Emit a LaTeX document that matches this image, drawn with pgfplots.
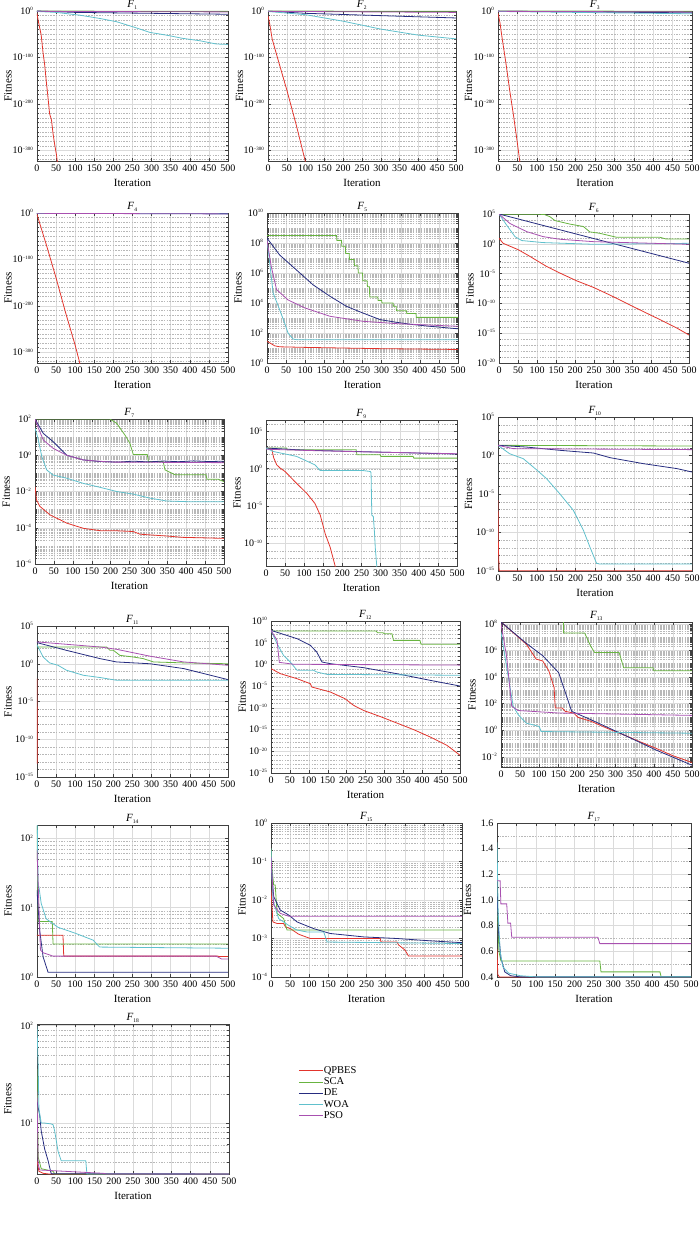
\documentclass[border=0pt]{standalone}
\usepackage{fontspec}
\setmainfont{Liberation Serif}
\usepackage{pgfplots}
\pgfplotsset{compat=1.18}
\definecolor{cQ}{RGB}{226,52,44}
\definecolor{cS}{RGB}{104,180,64}
\definecolor{cD}{RGB}{38,44,128}
\definecolor{cW}{RGB}{96,192,204}
\definecolor{cP}{RGB}{168,80,176}
\newcommand\pe[1]{10\textsuperscript{\fontsize{5}{6}\selectfont #1}}
\newcommand\ttl[1]{\textit{F}\textsubscript{\fontsize{5.5}{6}\selectfont #1}}
\newcommand\mkdec[2]{\gdef#1{}\foreach \e in {#2}{\xdef#1{#1 1e\e,}}\xdef#1{#1 1e0}}
\newcommand\mkfull[2]{\gdef#1{}\foreach \e in {#2}{\foreach \m in {1,...,9}{\xdef#1{#1 \m e\e,}}}\xdef#1{#1 1e0}}
\mkdec\mA{-10,-20,...,-320}
\mkdec\mBsix{-20,...,5}
\mkdec\mBnine{-13,...,6}
\mkdec\mBten{-15,...,5}
\mkdec\mBtw{-25,...,10}
\mkfull\mCfive{0,...,10}
\mkfull\mCseven{-6,...,2}
\mkfull\mCthirteen{-3,...,8}
\mkfull\mCfourteen{0,...,2}
\mkfull\mCfifteen{-4,...,0}
\pgfplotsset{
  mA/.estyle={minor ytick={\mA}},
  mBsix/.estyle={minor ytick={\mBsix}},
  mBnine/.estyle={minor ytick={\mBnine}},
  mBten/.estyle={minor ytick={\mBten}},
  mBtw/.estyle={minor ytick={\mBtw}},
  mCfive/.estyle={minor ytick={\mCfive}},
  mCseven/.estyle={minor ytick={\mCseven}},
  mCthirteen/.estyle={minor ytick={\mCthirteen}},
  mCfourteen/.estyle={minor ytick={\mCfourteen}},
  mCfifteen/.estyle={minor ytick={\mCfifteen}},
}
\pgfplotsset{
  Q/.style={color=cQ, line width=0.8pt},
  S/.style={color=cS, line width=0.8pt},
  D/.style={color=cD, line width=0.8pt},
  W/.style={color=cW, line width=0.8pt},
  P/.style={color=cP, line width=0.8pt},
  base/.style={
    scale only axis, anchor=north west,
    xmin=0, xmax=500, xtick={0,50,...,500},
    tick align=inside,
    xmajorgrids, ymajorgrids, yminorgrids,
    major grid style={draw=black!14, line width=0.4pt},
    minor grid style={draw=black!28, line width=0.35pt, dash pattern=on 1.5pt off 1.2pt},
    axis line style={draw=black!75, line width=0.9pt},
    major tick length=2.8pt, minor tick length=1.6pt,
    every tick/.append style={draw=black!75, line width=0.4pt},
    tick label style={font=\fontsize{10}{10}\selectfont},
    label style={font=\fontsize{11}{11}\selectfont},
    xlabel={Iteration}, ylabel={Fitness},
    xlabel style={at={(axis description cs:0.5,0)}, anchor=center, yshift=-22pt},
    ylabel style={at={(axis description cs:-0.152,0.5)}, anchor=center},
    title style={at={(axis description cs:0.5,1)}, anchor=base, yshift=-2.8pt, font=\fontsize{11}{11}\selectfont},
  },
  topfour/.style={ymin=1e-323, ymax=1, ytick={1,1e-100,1e-200,1e-300},
    yticklabels={\pe{0},\pe{−100},\pe{−200},\pe{−300}}, mA},
}
\pgfkeys{/pgf/number format/assume math mode=true}
\begin{document}
\begin{tikzpicture}
\useasboundingbox (0,0) rectangle (700pt,-1241pt);
% F1
\begin{axis}[base, ymode=log, topfour, at={(37pt,-11pt)}, width=191pt, height=150pt, title={\ttl{1}}]
\addplot[Q] coordinates {(0,1e-5)(3,1e-20)(8,1e-40)(11,1e-52)(16,1e-91)(20,1e-115)(24,1e-149)(28,1e-180)(33,1e-221)(38,1e-235)(42,1e-264)(46,1e-286)(51,1e-310)(54,1e-330)};
\addplot[S] coordinates {(0,0.6)(250,0.4)(500,0.3)};
\addplot[D] coordinates {(0,1)(100,1e-3)(300,1e-5)(500,1e-7)};
\addplot[W] coordinates {(0,0.1)(50,1e-3)(112,1e-9)(164,1e-16)(208,1e-23)(251,1e-34)(295,1e-46)(339,1e-52)(382,1e-59)(426,1e-64)(469,1e-71)(500,1e-72)};
\addplot[P] coordinates {(0,0.2)(500,1e-2)};
\end{axis}
% F2
\begin{axis}[base, ymode=log, topfour, at={(268pt,-11pt)}, width=188pt, height=150pt, title={\ttl{2}}]
\addplot[Q] coordinates {(0,1e-10)(5,1e-30)(11,1e-60)(25,1e-100)(50,1e-170)(75,1e-245)(99,1e-323)(100,1e-330)};
\addplot[S] coordinates {(0,0.6)(500,0.3)};
\addplot[D] coordinates {(0,0.5)(100,1e-5)(500,1e-15)};
\addplot[W] coordinates {(0,0.1)(100,1e-8)(200,1e-22)(300,1e-39)(400,1e-52)(500,1e-60)};
\addplot[P] coordinates {(0,0.2)(500,1e-3)};
\end{axis}
% F3
\begin{axis}[base, ymode=log, topfour, at={(498pt,-11pt)}, width=194pt, height=150pt, title={\ttl{3}}]
\addplot[Q] coordinates {(0,1e-5)(5,1e-25)(10,1e-55)(20,1e-110)(30,1e-170)(40,1e-225)(50,1e-285)(56,1e-323)(57,1e-330)};
\addplot[S] coordinates {(0,0.6)(500,0.4)};
\addplot[D] coordinates {(0,0.5)(500,1e-4)};
\addplot[W] coordinates {(0,0.1)(500,1e-6)};
\addplot[P] coordinates {(0,0.2)(500,1e-2)};
\end{axis}
% F4
\begin{axis}[base, ymode=log, topfour, at={(37pt,-213pt)}, width=191pt, height=150pt, title={\ttl{4}}]
\addplot[Q] coordinates {(0,1e-3)(10,1e-30)(25,1e-70)(50,1e-140)(75,1e-215)(100,1e-285)(112,1e-323)(113,1e-330)};
\addplot[S] coordinates {(0,0.6)(500,0.5)};
\addplot[D] coordinates {(0,0.5)(500,0.05)};
\addplot[W] coordinates {(0,0.3)(500,1e-2)};
\addplot[P] coordinates {(0,0.2)(500,1e-2)};
\end{axis}
% F5
\begin{axis}[base, at={(267pt,-213pt)}, width=191pt, height=150pt, title={\ttl{5}},
  ymode=log, ymin=1, ymax=1e10, ytick={1,1e2,1e4,1e6,1e8,1e10},
  yticklabels={\pe{0},\pe{2},\pe{4},\pe{6},\pe{8},\pe{10}}, mCfive]
\addplot[Q] coordinates {(0,28)(10,20)(20,14)(33,12)(100,11)(300,9)(500,8)};
\addplot[S] coordinates {(0,3.2e8)(182,3.2e8)(183,1.5e8)(195,1.5e8)(196,6e7)(205,6e7)(206,2e7)(215,2e7)(216,8e6)(228,8e6)(229,3e6)(238,3e6)(239,1e6)(250,1e6)(251,3e5)(262,3e5)(263,1.2e5)(268,1.2e5)(269,2.5e4)(290,2.5e4)(291,1.5e4)(300,1.5e4)(301,1e4)(330,1e4)(331,6e3)(338,6e3)(339,3e3)(365,3e3)(366,2e3)(390,2e3)(391,1.1e3)(500,1.1e3)};
\addplot[D] coordinates {(0,2.1e8)(33,1.6e7)(77,1.6e6)(121,1.6e5)(165,2.8e4)(208,6e3)(252,2.1e3)(296,7.8e2)(340,5.1e2)(384,3.6e2)(427,2.8e2)(500,1.9e2)};
\addplot[W] coordinates {(0,1.6e8)(7,5e6)(16,4.7e4)(33,3.6e3)(46,4.7e2)(55,1e2)(68,40)(77,36)(500,36)};
\addplot[P] coordinates {(0,1.6e8)(11,2.8e6)(25,7.9e4)(55,1.6e4)(99,4.7e3)(165,1.3e3)(252,6e2)(340,4.2e2)(500,2.8e2)};
\end{axis}
% F6
\begin{axis}[base, at={(499pt,-214pt)}, width=190pt, height=149pt, title={\ttl{6}},
  ymode=log, ymin=1e-20, ymax=1e5, ytick={1e-20,1e-15,1e-10,1e-5,1,1e5},
  yticklabels={\pe{−20},\pe{−15},\pe{−10},\pe{−5},\pe{0},\pe{5}}, mBsix]
\addplot[Q] coordinates {(0,8.5)(11,1.2)(51,0.1)(81,8e-3)(125,1.6e-4)(160,1.26e-5)(204,6.3e-7)(248,5e-8)(292,2.5e-9)(335,1.1e-10)(379,4.5e-12)(423,2e-13)(467,8e-15)(500,5e-16)};
\addplot[S] coordinates {(0,9e4)(108,9e4)(120,8e4)(134,3.5e4)(147,8e3)(187,2e3)(222,8e2)(239,1e2)(265,5.8e1)(309,1.26e1)(423,1.26e1)(440,6.3)(500,6.3)};
\addplot[D] coordinates {(0,1e5)(250,7.4)(500,5.5e-4)};
\addplot[W] coordinates {(0,1e5)(20,1.4e3)(42,16)(60,3.5)(116,1.6)(248,0.83)(500,1.2)};
\addplot[P] coordinates {(0,1e5)(29,2.5e3)(73,1.1e2)(116,16)(160,5.8)(248,2.3)(335,1.6)(500,0.83)};
\end{axis}
% F7
\begin{axis}[base, at={(35pt,-419pt)}, width=189pt, height=145pt, title={\ttl{7}},
  ymode=log, ymin=1e-6, ymax=100, ytick={1e-6,1e-4,1e-2,1,1e2},
  yticklabels={\pe{−6},\pe{−4},\pe{−2},\pe{0},\pe{2}}, mCseven]
\addplot[Q] coordinates {(0,0.0186)(4,0.0034)(13,0.0015)(40,5.1e-4)(84,1.8e-4)(128,9.3e-5)(172,6.9e-5)(216,6.8e-5)(260,6.2e-5)(278,4.4e-5)(348,3.5e-5)(392,2.95e-5)(500,2.6e-5)};
\addplot[S] coordinates {(0,100)(198,100)(216,58)(238,13)(251,4.6)(260,1.1)(297,1.1)(300,0.45)(339,0.45)(344,0.155)(370,0.085)(452,0.085)(455,0.047)(485,0.047)(500,0.035)};
\addplot[D] coordinates {(0,100)(22,16)(48,5.6)(84,1)(128,0.55)(172,0.45)(220,0.42)(260,0.47)(300,0.43)(340,0.48)(380,0.44)(420,0.49)(460,0.45)(500,0.47)};
\addplot[W] coordinates {(0,32)(9,6.9)(18,0.83)(31,0.155)(48,0.081)(84,0.054)(128,0.028)(172,0.017)(216,0.01)(260,0.0072)(304,0.0043)(348,0.003)(401,0.00275)(500,0.00275)};
\addplot[P] coordinates {(0,100)(9,31)(22,6.9)(48,2.4)(84,1)(128,0.55)(200,0.42)(500,0.39)};
\end{axis}
% F9
\begin{axis}[base, at={(266pt,-420pt)}, width=191pt, height=146pt, title={\ttl{9}},
  ymode=log, ymin=1e-13, ymax=3.2e6, ytick={1e-10,1e-5,1,1e5},
  yticklabels={\pe{−10},\pe{−5},\pe{0},\pe{5}}, mBnine]
\addplot[Q] coordinates {(0,580)(15,450)(20,30)(28,3.3)(37,1.2)(50,0.42)(80,1.1e-2)(107,5e-4)(128,2.3e-5)(142,6.3e-7)(155,2e-9)(168,3.2e-11)(181,1e-13)(183,1e-14)};
\addplot[S] coordinates {(0,580)(54,580)(56,340)(236,340)(238,72)(299,72)(301,44)(385,44)(387,26)(500,26)};
\addplot[D] coordinates {(0,580)(100,300)(250,190)(500,90)};
\addplot[W] coordinates {(0,580)(19,200)(80,44)(128,3.3)(142,0.56)(255,0.56)(273,0.42)(275,0.3)(277,6.3e-7)(281,4e-7)(284,3e-9)(286,3e-11)(290,1e-13)(291,1e-14)};
\addplot[P] coordinates {(0,400)(100,280)(250,180)(500,100)};
\end{axis}
% F10
\begin{axis}[base, at={(498pt,-417pt)}, width=194pt, height=154pt, title={\ttl{10}},
  ymode=log, ymin=1e-15, ymax=1e5, ytick={1e-15,1e-10,1e-5,1,1e5},
  yticklabels={\pe{−15},\pe{−10},\pe{−5},\pe{0},\pe{5}}, mBten]
\addplot[Q] coordinates {(0,1.6e-6)(1,1e-12)(3,1.1e-15)(500,1.1e-15)};
\addplot[S] coordinates {(0,21)(500,17)};
\addplot[D] coordinates {(0,21)(73,12.6)(160,4.7)(246,2.1)(289,0.52)(375,0.087)(461,0.02)(500,0.0072)};
\addplot[W] coordinates {(0,21)(30,1.7)(65,0.39)(99,0.0145)(125,1e-3)(159,1.1e-5)(194,7.9e-8)(220,2e-10)(237,1.26e-12)(254,1e-14)(263,7.9e-15)(500,7.9e-15)};
\addplot[P] coordinates {(0,21)(39,7.8)(500,5.8)};
\end{axis}
% F11
\begin{axis}[base, at={(37pt,-626pt)}, width=191pt, height=151pt, title={\ttl{11}},
  ymode=log, ymin=1e-15, ymax=1e5, ytick={1e-15,1e-10,1e-5,1,1e5},
  yticklabels={\pe{−15},\pe{−10},\pe{−5},\pe{0},\pe{5}}, mBten]
\addplot[Q] coordinates {(0,0.011)(0.8,6e-14)};
\addplot[S] coordinates {(0,166)(182,166)(191,60)(200,60)(217,13)(252,7.9)(278,4.8)(305,1.74)(384,1.3)(500,1)};
\addplot[D] coordinates {(0,630)(77,60)(165,4.8)(208,1.74)(296,1)(384,0.23)(500,0.0079)};
\addplot[W] coordinates {(0,340)(16,7.9)(33,1.3)(55,0.63)(77,0.14)(121,0.03)(165,0.015)(208,0.0066)(500,0.0066)};
\addplot[P] coordinates {(0,780)(77,380)(165,166)(208,83)(296,10)(384,1.74)(500,0.63)};
\end{axis}
% F12
\begin{axis}[base, at={(271pt,-621pt)}, width=189pt, height=152pt, title={\ttl{12}},
  ymode=log, ymin=1e-25, ymax=1e10, ytick={1e-25,1e-20,1e-15,1e-10,1e-5,1,1e5,1e10},
  yticklabels={\pe{−25},\pe{−20},\pe{−15},\pe{−10},\pe{−5},\pe{0},\pe{5},\pe{10}}, mBtw]
\addplot[Q] coordinates {(0,0.107)(25,7.4e-3)(69,5.2e-4)(104,3.7e-5)(108,6.3e-6)(157,4.5e-7)(196,1.26e-8)(218,4e-10)(245,2.5e-11)(289,1e-12)(333,3.2e-14)(377,1e-15)(421,2e-17)(465,2.5e-19)(500,1.26e-21)};
\addplot[S] coordinates {(0,5e7)(278,5e7)(282,2e7)(296,2e7)(300,1.2e7)(320,1.2e7)(324,3.5e5)(394,3.5e5)(397,4.3e4)(500,4.3e4)};
\addplot[D] coordinates {(0,7e7)(69,8.5e5)(104,2.5e4)(121,7.2e2)(135,3.6)(157,1.5)(245,0.18)(333,7.4e-3)(421,2.2e-4)(500,1.07e-5)};
\addplot[W] coordinates {(0,7e7)(16,6e4)(33,126)(51,3.6)(69,0.044)(113,0.044)(121,0.018)(148,5.2e-3)(500,3.2e-3)};
\addplot[P] coordinates {(0,7e7)(16,3.5e5)(22,3)(60,1.1)(500,0.7)};
\end{axis}
% F13
\begin{axis}[base, at={(501pt,-622pt)}, width=191pt, height=145pt, title={\ttl{13}},
  ymode=log, ymin=1.7e-3, ymax=1.35e8, ytick={1e-2,1,1e2,1e4,1e6,1e8},
  yticklabels={\pe{−2},\pe{0},\pe{2},\pe{4},\pe{6},\pe{8}}, mCthirteen]
\addplot[Q] coordinates {(0,1.35e8)(66,3e6)(92,2.2e5)(109,1.6e5)(125,3e4)(139,1.6e3)(142,47)(160,47)(168,26)(190,19.5)(202,9.1)(236,4.6)(280,1.3)(321,0.45)(360,0.15)(406,0.043)(450,0.012)(500,0.0037)};
\addplot[S] coordinates {(0,1e9)(163,1e9)(164,2e7)(219,2e7)(224,9.8e6)(235,2e6)(245,7e5)(309,7e5)(313,3e5)(321,5e4)(398,5e4)(400,2.9e4)(500,2.9e4)};
\addplot[D] coordinates {(0,1.35e8)(66,3.4e6)(109,4e5)(151,2.1e4)(185,26)(236,6)(321,0.45)(406,0.032)(500,0.0023)};
\addplot[W] coordinates {(0,2.3e7)(15,5e4)(32,63)(45,14.5)(66,3.4)(100,1.9)(105,0.79)(500,0.59)};
\addplot[P] coordinates {(0,1e8)(15,3e5)(28,63)(45,30)(151,19.5)(500,12.9)};
\end{axis}
% F14
\begin{axis}[base, at={(37pt,-825pt)}, width=191pt, height=152pt, title={\ttl{14}},
  ymode=log, ymin=1, ymax=155, ytick={1,10,100},
  yticklabels={\pe{0},\pe{1},\pe{2}}, mCfourteen]
\addplot[Q] coordinates {(0,4)(68,4)(70,2)(474,2)(476,1.97)(500,1.97)};
\addplot[S] coordinates {(0,150)(3,6.3)(40,6.3)(42,3)(500,3)};
\addplot[D] coordinates {(0,17.8)(7,4.7)(16,1.95)(29,1.17)(500,1.17)};
\addplot[W] coordinates {(0,300)(3,20)(5,20)(11,11.5)(24,6.9)(55,5.2)(99,4.3)(147,3.4)(164,2.7)(500,2.6)};
\addplot[P] coordinates {(0,68)(9,2.45)(16,2.24)(42,2)(469,2)(483,1.82)(500,1.82)};
\end{axis}
% F15
\begin{axis}[base, at={(271pt,-823pt)}, width=191pt, height=154pt, title={\ttl{15}},
  ymode=log, ymin=1e-4, ymax=1, ytick={1e-4,1e-3,1e-2,1e-1,1},
  yticklabels={\pe{−4},\pe{−3},\pe{−2},\pe{−1},\pe{0}}, mCfifteen]
\addplot[Q] coordinates {(0,0.018)(5,0.0027)(16,0.00245)(33,0.00245)(38,0.002)(51,0.0018)(72,0.0013)(81,0.0012)(103,0.001)(286,0.001)(288,0.00081)(330,0.00081)(334,0.00068)(351,0.0005)(360,0.00035)(500,0.00035)};
\addplot[S] coordinates {(0,0.22)(3,0.06)(7,0.0245)(11,0.0245)(16,0.0045)(33,0.0033)(42,0.00166)(500,0.00166)};
\addplot[D] coordinates {(0,0.091)(7,0.0123)(24,0.0055)(46,0.0041)(68,0.0027)(112,0.0018)(155,0.00135)(243,0.0011)(330,0.001)(417,0.00087)(500,0.00078)};
\addplot[W] coordinates {(0,0.22)(5,0.01)(20,0.0033)(46,0.0022)(68,0.00166)(94,0.00148)(138,0.00148)(147,0.00081)(500,0.00074)};
\addplot[P] coordinates {(0,0.135)(7,0.0074)(24,0.0045)(46,0.0038)(500,0.0038)};
\end{axis}
% F17
\begin{axis}[base, at={(497pt,-823pt)}, width=194pt, height=154pt, title={\ttl{17}},
  ymin=0.4, ymax=1.6, ytick={0.4,0.6,...,1.6}, minor y tick num=1,
  yticklabel style={/pgf/number format/fixed, /pgf/number format/fixed zerofill, /pgf/number format/precision=1}]
\addplot[Q] coordinates {(0,0.62)(2,0.42)(6,0.4005)(500,0.4005)};
\addplot[S] coordinates {(0,1.0)(5,0.6)(10,0.525)(265,0.525)(268,0.44)(420,0.44)(423,0.402)(500,0.402)};
\addplot[D] coordinates {(0,1.05)(4,0.75)(10,0.55)(20,0.44)(35,0.41)(60,0.401)(500,0.401)};
\addplot[W] coordinates {(0,1.45)(3,0.9)(8,0.6)(15,0.48)(30,0.43)(60,0.41)(100,0.401)(500,0.401)};
\addplot[P] coordinates {(0,1.15)(8,1.15)(10,0.97)(25,0.97)(28,0.82)(35,0.82)(38,0.71)(260,0.71)(265,0.66)(500,0.66)};
\end{axis}
% F18
\begin{axis}[base, at={(37pt,-1024pt)}, width=192pt, height=150pt, title={\ttl{18}},
  ymode=log, ymin=3, ymax=104, ytick={10,100},
  yticklabels={\pe{1},\pe{2}}, mCfourteen,
  legend style={at={(1.36,0.722)}, anchor=north west, draw=none, fill=none,
    font=\fontsize{10.5}{11}\selectfont, inner sep=0pt, row sep=1.6pt,
    nodes={inner sep=0.6pt}},
  legend cell align=left,
  legend image code/.code={\draw[#1, line width=0.9pt] (0pt,0pt) -- (24pt,0pt);}]
\addplot[Q] coordinates {(0,4.1)(5,3.2)(16,3.05)(30,3.005)(500,3.005)};
\addlegendentry{QPBES}
\addplot[S] coordinates {(0,36)(3,4.5)(11,3.4)(42,3.2)(46,3.005)(500,3.005)};
\addlegendentry{SCA}
\addplot[D] coordinates {(0,16.6)(7,12)(11,8.3)(20,5.4)(29,4.1)(33,3.5)(37,3.02)(500,3.005)};
\addlegendentry{DE}
\addplot[W] coordinates {(0,100)(3,39)(5,14)(11,10)(20,10)(37,9.8)(42,9.6)(46,8.3)(55,5.1)(63,4.1)(127,4.1)(130,3.005)(500,3.005)};
\addlegendentry{WOA}
\addplot[P] coordinates {(0,21)(3,3.8)(7,3.3)(172,3.05)(180,3.005)(500,3.005)};
\addlegendentry{PSO}
\end{axis}
\end{tikzpicture}
\end{document}
